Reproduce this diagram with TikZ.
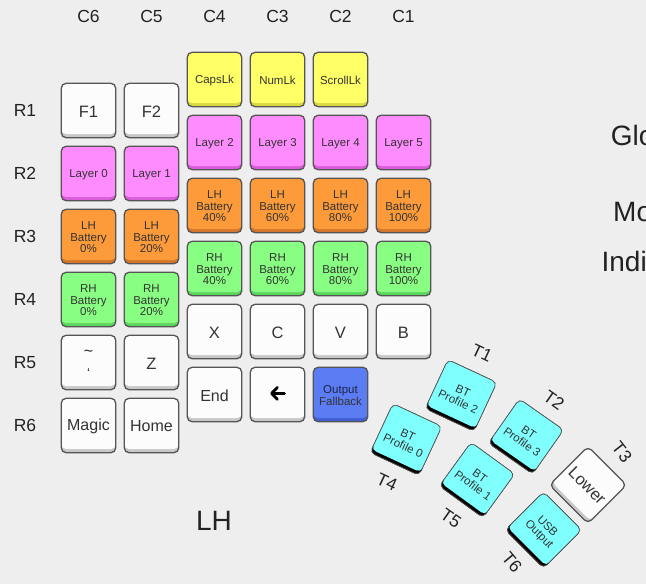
\documentclass[tikz,border=0pt]{standalone}
\usepackage{fontspec}
\setmainfont{Liberation Sans}
\definecolor{bg}{HTML}{EEEEEE}
\definecolor{lblc}{HTML}{222222}
\definecolor{ktxt}{HTML}{333333}
\definecolor{kborder}{HTML}{555555}
\definecolor{wface}{HTML}{FCFCFC}\definecolor{wlip}{HTML}{C8C8C8}
\definecolor{yface}{HTML}{FFFF66}\definecolor{ylip}{HTML}{D8D840}
\definecolor{mface}{HTML}{FF8CFF}\definecolor{mlip}{HTML}{DA5CDA}
\definecolor{oface}{HTML}{FD9B3B}\definecolor{olip}{HTML}{D4762A}
\definecolor{gface}{HTML}{88FF82}\definecolor{glip}{HTML}{5CD65C}
\definecolor{bface}{HTML}{5B7CF3}\definecolor{blip}{HTML}{3F5ED0}
\definecolor{cface}{HTML}{80FFFF}\definecolor{clip}{HTML}{52D6D6}
\tikzset{
  lbl/.style={font=\fontsize{17.5}{17.5}\selectfont, text=lblc, inner sep=0pt},
  biglbl/.style={font=\fontsize{28}{28}\selectfont, text=lblc, inner sep=0pt},
  keytxt/.style={align=center, text=ktxt, inner sep=0pt},
}
% #1 name, #2 centre, #3 rotation, #4 colour prefix, #5 font size, #6 text
\newcommand\kcap[6]{%
  \begin{scope}[shift={(#2)}, rotate=#3, transform shape]
    \fill[#4lip, rounded corners=5pt] (-27.25,-27.25) rectangle (27.25,27.25);
    \fill[#4face, rounded corners=4.5pt] (-27,-27) rectangle (27,23.6);
    \draw[kborder, line width=1.3pt, rounded corners=5pt] (-27.25,-27.25) rectangle (27.25,27.25);
    \node[keytxt, font=\fontsize{#5}{11.5}\selectfont] (#1) at (0,1) {#6};
  \end{scope}}
\begin{document}
\begin{tikzpicture}[x=1pt, y=-1pt]
\useasboundingbox (0,0) rectangle (646,584);
\clip (0,0) rectangle (646,584);
\fill[bg] (0,0) rectangle (646,584);

% column labels
\foreach \c/\x in {C6/88.5, C5/151.5, C4/214.5, C3/277.5, C2/340.5, C1/403.5}
  \node[lbl] (lab\c) at (\x,16.5) {\c};
% row labels
\foreach \r/\y in {R1/110.5, R2/173.5, R3/236.5, R4/299.5, R5/362.5, R6/425.5}
  \node[lbl] (lab\r) at (25,\y) {\r};

% column C6
\kcap{c6r1}{88.5,110.5}{0}{w}{16.5}{F1}
\kcap{c6r2}{88.5,173.5}{0}{m}{11.5}{Layer 0}
\kcap{c6r3}{88.5,236.5}{0}{o}{11.5}{LH\\Battery\\0\%}
\kcap{c6r4}{88.5,299.5}{0}{g}{11.5}{RH\\Battery\\0\%}
\kcap{c6r5}{88.5,362.5}{0}{w}{16}{}
\node[lbl, anchor=base, font=\fontsize{16}{16}\selectfont] (tilde) at (88.5,356) {\char"7E};
\node[lbl, anchor=base, font=\fontsize{13}{13}\selectfont] (grave) at (88.5,377) {\char"60};
\kcap{c6r6}{88.5,425.5}{0}{w}{16}{Magic}

% column C5
\kcap{c5r1}{151.5,110.5}{0}{w}{16.5}{F2}
\kcap{c5r2}{151.5,173.5}{0}{m}{11.5}{Layer 1}
\kcap{c5r3}{151.5,236.5}{0}{o}{11.5}{LH\\Battery\\20\%}
\kcap{c5r4}{151.5,299.5}{0}{g}{11.5}{RH\\Battery\\20\%}
\kcap{c5r5}{151.5,362.5}{0}{w}{16.5}{Z}
\kcap{c5r6}{151.5,425.5}{0}{w}{16}{Home}

% column C4
\kcap{c4r1}{214.5,79.5}{0}{y}{11.5}{CapsLk}
\kcap{c4r2}{214.5,142.5}{0}{m}{11.5}{Layer 2}
\kcap{c4r3}{214.5,205.5}{0}{o}{11.5}{LH\\Battery\\40\%}
\kcap{c4r4}{214.5,268.5}{0}{g}{11.5}{RH\\Battery\\40\%}
\kcap{c4r5}{214.5,331.5}{0}{w}{16.5}{X}
\kcap{c4r6}{214.5,394.5}{0}{w}{16}{End}

% column C3
\kcap{c3r1}{277.5,79.5}{0}{y}{11.5}{NumLk}
\kcap{c3r2}{277.5,142.5}{0}{m}{11.5}{Layer 3}
\kcap{c3r3}{277.5,205.5}{0}{o}{11.5}{LH\\Battery\\60\%}
\kcap{c3r4}{277.5,268.5}{0}{g}{11.5}{RH\\Battery\\60\%}
\kcap{c3r5}{277.5,331.5}{0}{w}{16.5}{C}
\kcap{c3r6}{277.5,394.5}{0}{w}{16}{}
\coordinate (arrT) at (284.5,393.3);
\coordinate (arrH) at (271.5,393.3);
\draw[black, line width=2.8pt, line cap=round] (arrT) -- ([xshift=1pt]arrH);
\draw[black, line width=2.8pt, line cap=round, line join=round]
  ([xshift=6pt,yshift=-6pt]arrH) -- (arrH) -- ([xshift=6pt,yshift=6pt]arrH);

% column C2
\kcap{c2r1}{340.5,79.5}{0}{y}{11.5}{ScrollLk}
\kcap{c2r2}{340.5,142.5}{0}{m}{11.5}{Layer 4}
\kcap{c2r3}{340.5,205.5}{0}{o}{11.5}{LH\\Battery\\80\%}
\kcap{c2r4}{340.5,268.5}{0}{g}{11.5}{RH\\Battery\\80\%}
\kcap{c2r5}{340.5,331.5}{0}{w}{16.5}{V}
\kcap{c2r6}{340.5,394.5}{0}{b}{11.5}{\color[HTML]{1E2448}Output\\Fallback}

% column C1
\kcap{c1r2}{403.5,142.5}{0}{m}{11.5}{Layer 5}
\kcap{c1r3}{403.5,205.5}{0}{o}{11.5}{LH\\Battery\\100\%}
\kcap{c1r4}{403.5,268.5}{0}{g}{11.5}{RH\\Battery\\100\%}
\kcap{c1r5}{403.5,331.5}{0}{w}{16.5}{B}

% thumb cluster
\kcap{t1}{461,395.5}{-25}{c}{11.5}{BT\\Profile 2}
\kcap{t2}{526,436.5}{-35}{c}{11.5}{BT\\Profile 3}
\kcap{t3}{588,485}{-45}{w}{16.5}{Lower}
\kcap{t4}{406,439.5}{-25}{c}{11.5}{BT\\Profile 0}
\kcap{t5}{477,480}{-36}{c}{11.5}{BT\\Profile 1}
\kcap{t6}{543.5,530}{-45}{c}{11.5}{USB\\Output}

\node[lbl, rotate=-25] (labT1) at (482,353) {T1};
\node[lbl, rotate=-35] (labT2) at (554,400) {T2};
\node[lbl, rotate=-52] (labT3) at (622,452) {T3};
\node[lbl, rotate=-25] (labT4) at (387,482) {T4};
\node[lbl, rotate=-35] (labT5) at (451,518) {T5};
\node[lbl, rotate=-50] (labT6) at (512,562) {T6};

% big labels
\node[biglbl, anchor=base] (lh) at (214,530.5) {LH};
\node[biglbl, anchor=base west] (glo) at (610.7,145.5) {Glo};
\node[biglbl, anchor=base west] (mo) at (613,221.5) {Mo};
\node[biglbl, anchor=base west] (indi) at (601.4,271.5) {Indi};
\end{tikzpicture}
\end{document}
